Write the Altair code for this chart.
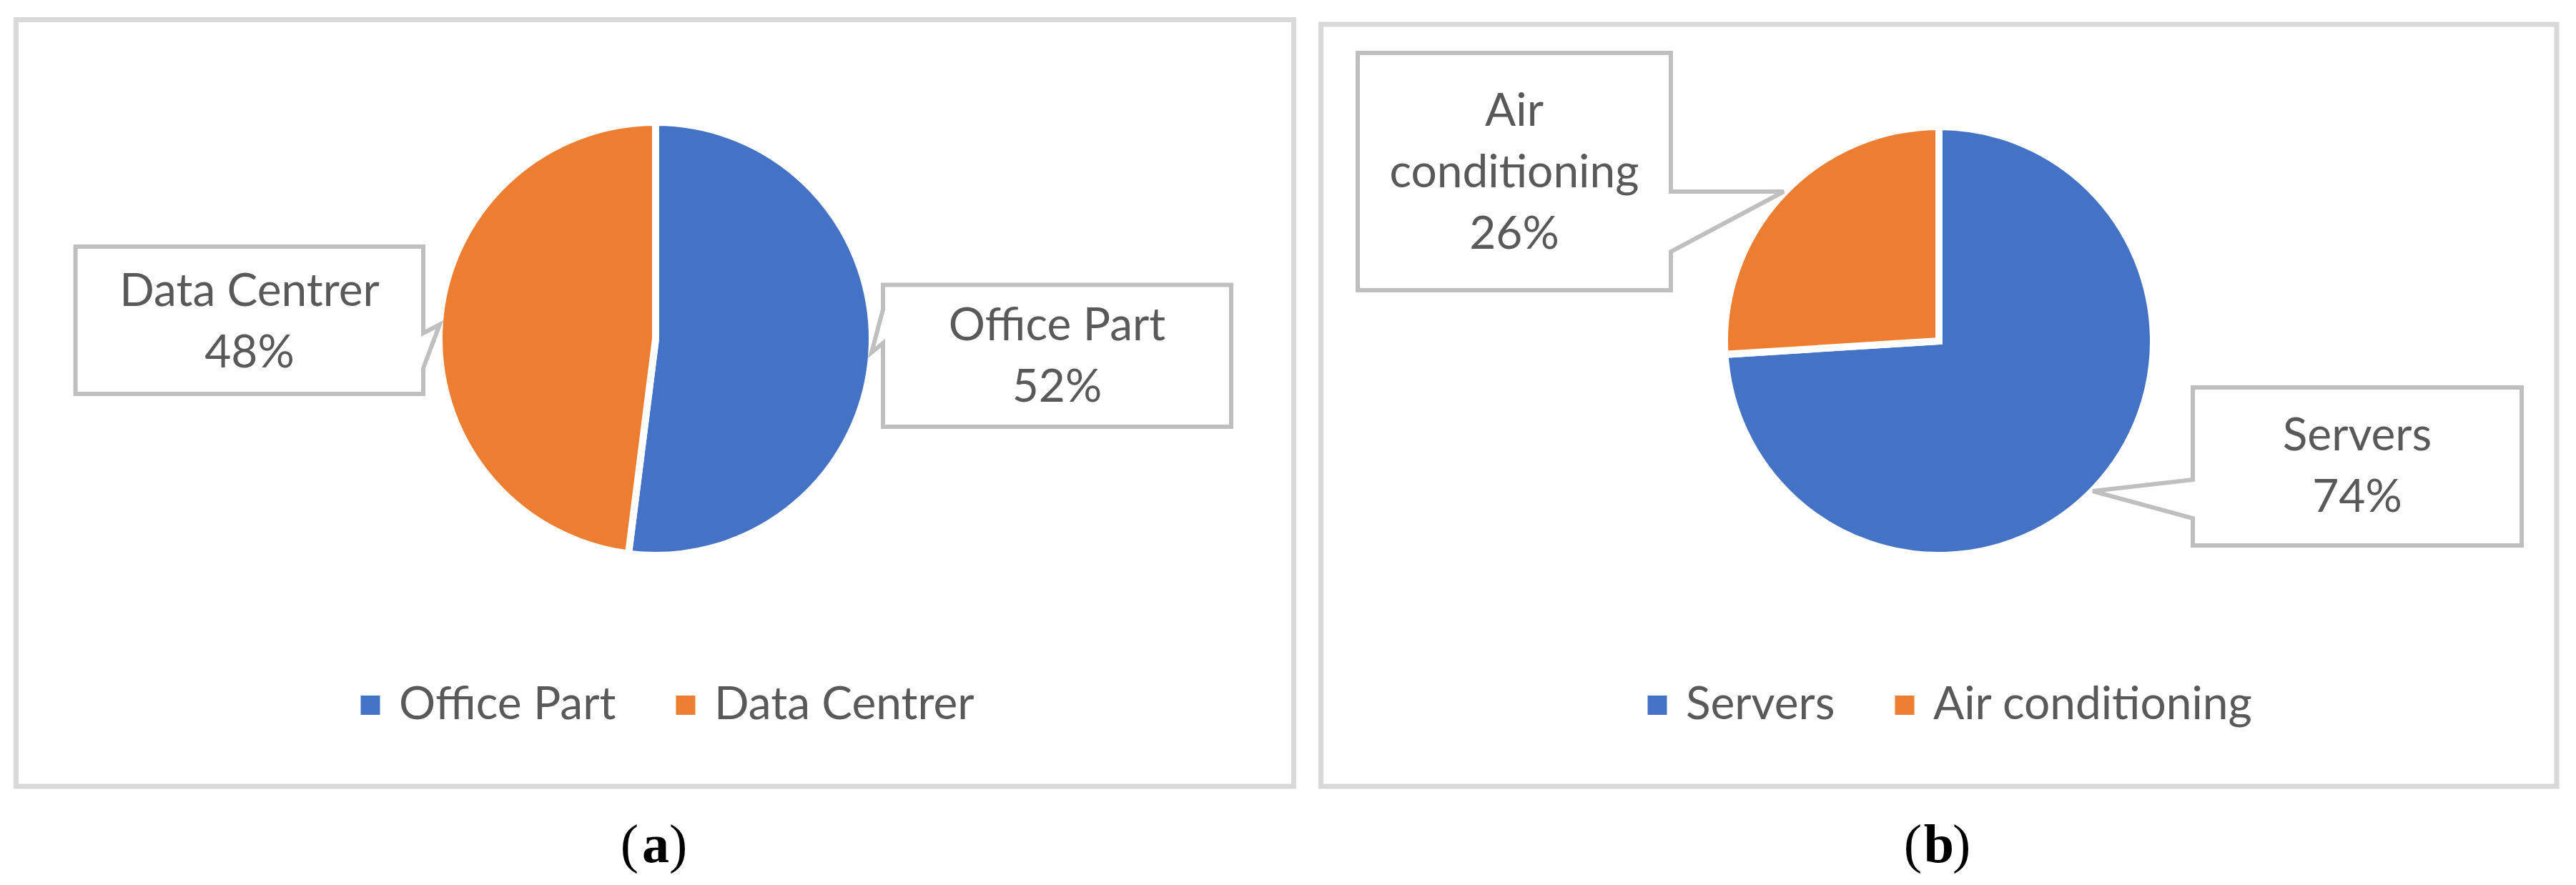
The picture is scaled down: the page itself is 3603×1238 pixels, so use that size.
import textwrap
import altair as alt
import pandas as pd

# ---------------- data ----------------
categories_a = ["Office Part", "Data Centrer"]
values_a = [52, 48]
categories_b = ["Servers", "Air conditioning"]
values_b = [74, 26]
captions = ["a", "b"]
slice_colors = ["#4472C4", "#ED7D31"]

# ---------------- layout (page pixels) ----------------
W, H = 3587, 1222
OX, OY = 8, 8
TEXT_FONT = "Lato"
TEXT_SIZE = 64
TEXT_COLOR = "#595959"
BOX_STROKE = "#BFBFBF"
LINE_H = 86
SEP = 10  # white separator between slices

panels = [
    dict(x1=22.5, x2=1809.5, y1=27.5, y2=1100),
    dict(x1=1847.5, x2=3576, y1=34, y2=1100),
]
pies = [dict(cx=917, cy=474, r=298), dict(cx=2712, cy=477, r=295)]
legends = [dict(x=486, y=986.5), dict(x=2286, y=986.5)]
caption_pos = [dict(x=917, y=1206), dict(x=2712, y=1206)]

# callouts in category order for each pie
callouts = [
    [
        dict(x1=1235, x2=1722, y1=398.5, y2=597, side="left", a1=433, a2=480, tip=(1219, 493), tx=1478.5, ty=500, wrap=30),
        dict(x1=105.6, x2=592, y1=345, y2=551, side="right", a1=466, a2=515, tip=(615, 454), tx=349, ty=452, wrap=30),
    ],
    [
        dict(x1=3067, x2=3527, y1=542, y2=763, side="left", a1=671, a2=725, tip=(2927, 687), tx=3297, ty=654, wrap=30),
        dict(x1=1899, x2=2337, y1=74, y2=406, side="right", a1=268, a2=352, tip=(2495, 268), tx=2118, ty=243, wrap=12),
    ],
]

xs = alt.Scale(domain=[OX, OX + W], range=[0, W], nice=False, zero=False)
ys = alt.Scale(domain=[OY, OY + H], range=[0, H], nice=False, zero=False)


def outline(c):
    x1, x2, y1, y2 = c["x1"], c["x2"], c["y1"], c["y2"]
    if c["side"] == "right":
        return [(x1, y1), (x2, y1), (x2, c["a1"]), c["tip"], (x2, c["a2"]), (x2, y2), (x1, y2), (x1, y1)]
    return [(x1, y1), (x2, y1), (x2, y2), (x1, y2), (x1, c["a2"]), c["tip"], (x1, c["a1"]), (x1, y1)]


# panel borders
panel_df = pd.DataFrame(panels)
panel_layer = alt.Chart(panel_df).mark_rect(fillOpacity=0, stroke="#D9D9D9", strokeWidth=7).encode(
    x=alt.X("x1:Q", scale=xs, axis=None), x2="x2:Q",
    y=alt.Y("y1:Q", scale=ys, axis=None), y2="y2:Q",
)

# pies
pie_layers = []
for cats, vals, pie, leg in [(categories_a, values_a, pies[0], legends[0]),
                             (categories_b, values_b, pies[1], legends[1])]:
    df = pd.DataFrame({"cat": cats, "val": vals, "ord": list(range(len(cats)))})
    layer = alt.Chart(df).mark_arc(radius=pie["r"] + SEP / 2, stroke="white", strokeWidth=SEP).encode(
        theta=alt.Theta("val:Q", stack=True),
        color=alt.Color(
            "cat:N",
            scale=alt.Scale(domain=cats, range=slice_colors),
            legend=alt.Legend(
                title=None, orient="none", direction="horizontal",
                legendX=leg["x"] - OX, legendY=leg["y"] - OY - TEXT_SIZE / 2,
                symbolType="square", symbolSize=729, symbolStrokeWidth=0,
                labelFont=TEXT_FONT, labelFontSize=TEXT_SIZE, labelColor=TEXT_COLOR,
                labelLimit=3000, labelOffset=8, columnPadding=65, padding=0,
            ),
        ),
        order=alt.Order("ord:Q"),
        x=alt.value(pie["cx"] - OX),
        y=alt.value(pie["cy"] - OY),
    )
    pie_layers.append(layer)

# callouts
box_rows, path_rows, text_rows = [], [], []
for pi, (cats, vals) in enumerate([(categories_a, values_a), (categories_b, values_b)]):
    total = sum(vals)
    for ci, (cat, val) in enumerate(zip(cats, vals)):
        c = callouts[pi][ci]
        cid = f"{pi}-{ci}"
        box_rows.append(dict(id=cid, x1=c["x1"], x2=c["x2"], y1=c["y1"], y2=c["y2"]))
        for k, (px, py) in enumerate(outline(c)):
            path_rows.append(dict(id=cid, k=k, x=px, y=py))
        lines = textwrap.wrap(cat, c["wrap"]) + [f"{round(val / total * 100)}%"]
        # first line position so that the block is centred on ty
        y_first = c["ty"] - (len(lines) - 1) * LINE_H / 2
        text_rows.append(dict(id=cid, x=c["tx"], y=y_first, label="\n".join(lines)))

box_layer = alt.Chart(pd.DataFrame(box_rows)).mark_rect(fill="white", strokeWidth=0).encode(
    x=alt.X("x1:Q", scale=xs, axis=None), x2="x2:Q",
    y=alt.Y("y1:Q", scale=ys, axis=None), y2="y2:Q",
)
path_layer = alt.Chart(pd.DataFrame(path_rows)).mark_line(
    color=BOX_STROKE, strokeWidth=6, strokeJoin="miter", strokeCap="square"
).encode(
    x=alt.X("x:Q", scale=xs, axis=None),
    y=alt.Y("y:Q", scale=ys, axis=None),
    detail="id:N",
    order="k:Q",
)
text_layer = alt.Chart(pd.DataFrame(text_rows)).mark_text(
    font=TEXT_FONT, fontSize=TEXT_SIZE, color=TEXT_COLOR, lineBreak="\n", lineHeight=LINE_H,
    align="center", baseline="middle",
).encode(
    x=alt.X("x:Q", scale=xs, axis=None),
    y=alt.Y("y:Q", scale=ys, axis=None),
    text="label:N",
)

# captions "(a)" "(b)" with bold letter
cap_rows = []
for letter, pos in zip(captions, caption_pos):
    cap_rows.append(dict(part="open", x=pos["x"] - 24, y=pos["y"], t="("))
    cap_rows.append(dict(part="letter", x=pos["x"], y=pos["y"], t=letter))
    cap_rows.append(dict(part="close", x=pos["x"] + 19, y=pos["y"], t=")"))
cap_df = pd.DataFrame(cap_rows)
cap_base = alt.Chart(cap_df).encode(
    x=alt.X("x:Q", scale=xs, axis=None),
    y=alt.Y("y:Q", scale=ys, axis=None),
    text="t:N",
)
cap_open = cap_base.mark_text(font="Liberation Serif", fontSize=76, color="black", align="right",
                              baseline="alphabetic").transform_filter(alt.datum.part == "open")
cap_letter = cap_base.mark_text(font="Liberation Serif", fontSize=76, fontWeight="bold", color="black",
                                align="center", baseline="alphabetic").transform_filter(alt.datum.part == "letter")
cap_close = cap_base.mark_text(font="Liberation Serif", fontSize=76, color="black", align="left",
                               baseline="alphabetic").transform_filter(alt.datum.part == "close")

chart = alt.layer(
    panel_layer, *pie_layers, box_layer, path_layer, text_layer, cap_open, cap_letter, cap_close
).resolve_scale(
    theta="independent", color="independent"
).resolve_legend(
    color="independent"
).properties(
    width=W, height=H, padding=0, autosize="none", background="white"
).configure_view(strokeWidth=0)

chart.save("out.html", embed_options={"renderer": "svg", "actions": False})
